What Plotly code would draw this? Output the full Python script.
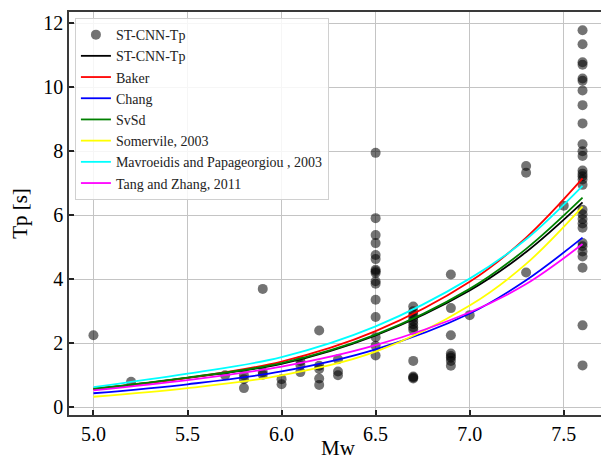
import plotly.graph_objects as go

# ---- scatter data ----
mw_points = ([5.0, 5.2, 5.7] + [5.8] * 3 + [5.9] * 3 + [6.0] * 2 + [6.1] * 3 + [6.2] * 5 + [6.3] * 3
             + [6.5] * 16 + [6.7] * 12 + [6.9] * 8 + [7.0] + [7.3] * 3 + [7.5] + [7.6] * 29)
tp_points = ([2.25, 0.8, 1.0]
             + [1.0, 0.88, 0.6]
             + [3.7, 1.1, 1.02]
             + [0.88, 0.72]
             + [1.45, 1.32, 1.1]
             + [2.4, 1.3, 1.2, 0.9, 0.7]
             + [1.5, 1.12, 1.0]
             + [7.95, 5.91, 5.38, 5.13, 4.76, 4.63, 4.3, 4.25, 4.2, 3.94, 3.86, 3.36, 2.82, 2.19, 1.92, 1.62]
             + [3.15, 3.0, 2.9, 2.8, 2.7, 2.6, 2.5, 2.42, 1.45, 0.96, 0.93, 0.9]
             + [4.15, 3.1, 2.25, 1.68, 1.6, 1.55, 1.45, 1.3]
             + [2.88]
             + [7.54, 7.33, 4.21]
             + [6.3]
             + [11.78, 11.34, 10.78, 10.7, 10.27, 10.2, 9.9, 9.44, 8.87, 8.22, 8.0, 7.85, 7.4, 7.3, 7.22,
                7.12, 6.95, 6.17, 6.03, 5.88, 5.74, 5.61, 5.13, 5.03, 4.87, 4.71, 4.36, 2.56, 1.31])

# ---- model curves (values read at these magnitudes) ----
mw_curve = [5.0, 5.5, 6.0, 6.5, 7.0, 7.3, 7.6]
st_cnn_curve = [0.57, 0.92, 1.36, 2.25, 3.65, 4.85, 6.40]
baker = [0.58, 0.92, 1.43, 2.38, 3.92, 5.30, 7.15]
chang = [0.44, 0.72, 1.12, 1.81, 2.93, 3.97, 5.30]
svsd = [0.58, 0.93, 1.38, 2.27, 3.70, 4.95, 6.55]
somerville = [0.33, 0.60, 1.00, 1.74, 3.18, 4.48, 6.27]
mavroeidis = [0.63, 1.05, 1.57, 2.53, 4.02, 5.25, 6.92]
tang_zhang = [0.53, 0.85, 1.27, 1.94, 2.97, 3.85, 5.10]

curves = [
    ("ST-CNN-Tp", st_cnn_curve, "black"),
    ("Baker", baker, "red"),
    ("Chang", chang, "blue"),
    ("SvSd", svsd, "green"),
    ("Somervile, 2003", somerville, "yellow"),
    ("Mavroeidis and Papageorgiou , 2003", mavroeidis, "cyan"),
    ("Tang and Zhang, 2011", tang_zhang, "magenta"),
]

x_ticks = [5.0, 5.5, 6.0, 6.5, 7.0, 7.5]
y_ticks = [0, 2, 4, 6, 8, 10, 12]

FONT = "Liberation Serif"

fig = go.Figure()
fig.add_trace(go.Scatter(
    x=mw_points, y=tp_points, mode="markers", name="ST-CNN-Tp",
    marker=dict(size=10, color="rgba(0,0,0,0.55)", line=dict(width=0)),
))
for name, vals, color in curves:
    fig.add_trace(go.Scatter(
        x=mw_curve, y=vals, mode="lines", name=name,
        line=dict(color=color, width=1.8, shape="spline"),
    ))

axis_common = dict(
    showgrid=True, gridcolor="#c4c4c4", gridwidth=1.2,
    showline=True, linecolor="#3a3a3a", linewidth=1.5, mirror=True,
    ticks="inside", ticklen=5, tickwidth=1.5, tickcolor="#222",
    tickfont=dict(family=FONT, size=20, color="black"),
    zeroline=False, automargin=False,
)

# the page body adds an 8px offset, so the figure is sized to sit inside the window
fig.update_layout(
    width=601, height=452,
    margin=dict(l=61, r=2, t=4, b=45),
    paper_bgcolor="white", plot_bgcolor="white",
    font=dict(family=FONT, color="black"),
    showlegend=True,
    legend=dict(
        x=0.011, y=0.985, xanchor="left", yanchor="top",
        bgcolor="rgba(255,255,255,0.85)", bordercolor="#d0d0d0", borderwidth=1,
        font=dict(family=FONT, size=14, color="#222"),
        tracegroupgap=0, itemwidth=30,
    ),
    xaxis=dict(
        range=[4.87, 7.73], tickvals=x_ticks, tickformat=".1f",
        title=dict(text="Mw", font=dict(family=FONT, size=21)),
        **axis_common,
    ),
    yaxis=dict(
        range=[-0.24, 12.35], tickvals=y_ticks,
        title=dict(text="Tp [s]", font=dict(family=FONT, size=21)),
        **axis_common,
    ),
)

fig.write_html("out.html")
